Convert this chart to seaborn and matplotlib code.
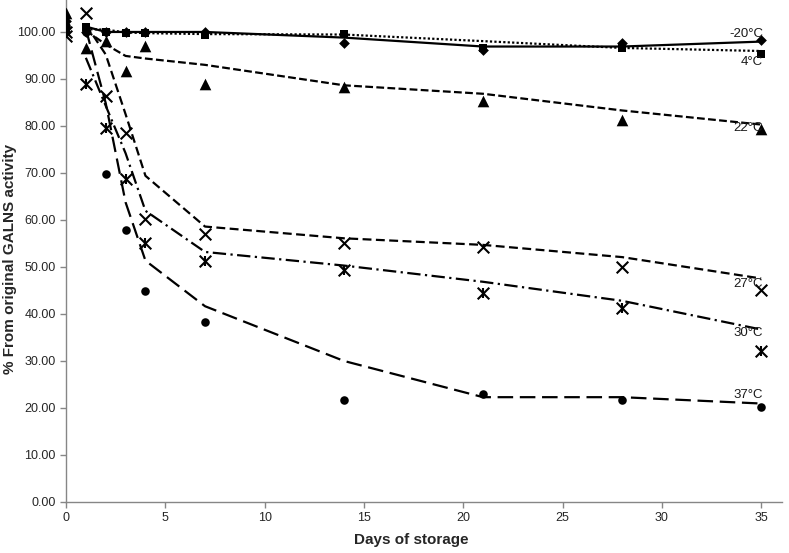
import numpy as np
import pandas as pd
import seaborn as sns
import matplotlib.pyplot as plt

sns.set_style("white")
plt.rcParams['font.family'] = ['Liberation Sans', 'DejaVu Sans']

# days of storage and % of original GALNS activity per storage temperature
days = [0, 1, 2, 3, 4, 7, 14, 21, 28, 35]
t_m20 = [102.3, 100.0, 100.0, 100.0, 100.0, 100.0, 97.6, 96.2, 97.6, 98.3]
t_4 = [100.2, 101.0, 100.0, 99.8, 99.7, 99.4, 99.5, 96.6, 96.6, 95.3]
t_22 = [104.0, 96.6, 98.1, 91.7, 97.0, 89.0, 88.3, 85.4, 81.2, 79.4]
t_27 = [99.2, 104.0, 86.4, 78.6, 60.2, 57.0, 55.2, 54.2, 50.0, 45.1]
t_30 = [100.0, 89.0, 79.6, 68.8, 55.1, 51.3, 49.3, 44.4, 41.2, 32.2]
t_37 = [101.3, 100.0, 69.7, 57.8, 44.9, 38.4, 21.6, 23.0, 21.6, 20.3]
labels = ['-20°C', '4°C', '22°C', '27°C', '30°C', '37°C']

series = [t_m20, t_4, t_22, t_27, t_30, t_37]
markers = ['D', 's', '^', 'x', 'x', 'o']
msizes = [30, 38, 70, 70, 70, 38]
styles = ['-', (0, (1, 1)), (0, (3.5, 1.5)), (0, (4, 2)), (0, (6, 2, 1, 2)), (0, (7, 3))]
# label spots (x, y) next to the end of each trend line
lab_pos = [(35.1, 99.6), (35.1, 93.6), (35.1, 79.5), (35.1, 46.4), (35.1, 36.0), (35.1, 22.7)]

fig = plt.figure(figsize=(7.89, 5.53), dpi=100)
ax = fig.add_axes([66 / 789, 51 / 553, (782 - 66) / 789, 502 / 553])

for vals, mk, ms, ls, lab, pos in zip(series, markers, msizes, styles, labels, lab_pos):
    df = pd.DataFrame({'day': days, 'act': vals})
    # 2-period moving average trend line (as excel does)
    df['trend'] = df['act'].rolling(2).mean()
    sns.lineplot(data=df, x='day', y='trend', ax=ax, color='black', lw=1.6,
                 linestyle=ls, zorder=2)
    lw = 1.5 if mk == 'x' else 0
    sns.scatterplot(data=df, x='day', y='act', ax=ax, marker=mk, s=ms, color='black',
                    edgecolor='black', linewidth=lw, zorder=3)
    if lab == '30°C':
        sns.scatterplot(data=df, x='day', y='act', ax=ax, marker='|', s=60,
                        color='black', linewidth=1.5, zorder=3)
    ax.text(pos[0], pos[1], lab, ha='right', va='center', fontsize=9.5, color='#1a1a1a')

ax.set_xlim(0, 36.05)
ax.set_ylim(0, 106.8)
ax.set_xticks(np.arange(0, 36, 5))
ax.set_yticks(np.arange(0, 101, 10))
ax.set_yticklabels(['%.2f' % v for v in np.arange(0, 101, 10)])
ax.tick_params(axis='both', direction='out', length=4, width=1, color='#868686',
               labelsize=9, labelcolor='#262626', left=True, bottom=True)
for s in ['top', 'right']:
    ax.spines[s].set_visible(False)
for s in ['left', 'bottom']:
    ax.spines[s].set_color('#868686')
    ax.spines[s].set_linewidth(1)

ax.set_xlabel('Days of storage', fontsize=11, fontweight='bold')
ax.set_ylabel('% From original GALNS activity', fontsize=11, fontweight='bold')
ax.xaxis.set_label_coords(0.482, -0.062)
ax.yaxis.set_label_coords(-0.068, 0.485)

fig.savefig('out.png', dpi=100)
